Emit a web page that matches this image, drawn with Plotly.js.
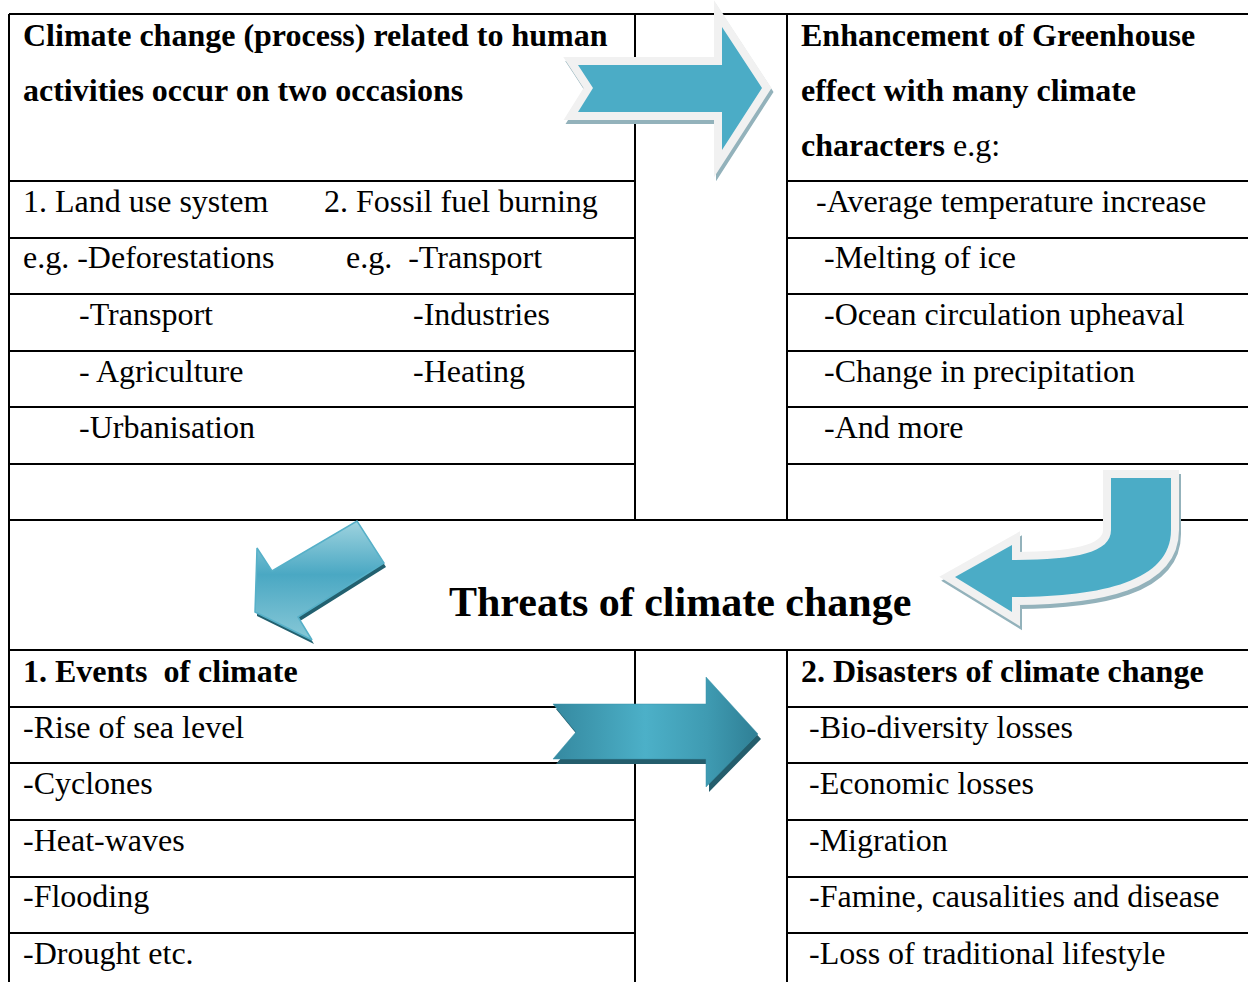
<!DOCTYPE html>
<html><head><meta charset="utf-8">
<script src="https://cdn.plot.ly/plotly-3.0.1.min.js"></script>
<style>html,body{margin:0;padding:0;background:#fff;overflow:hidden}#chart{width:1248px;height:982px}</style>
</head><body><div id="chart"></div>
<script>
// ---- text content ----
const topLeftHeader = ["Climate change (process) related to human", "activities occur on two occasions"];
const topRightHeader = ["<b>Enhancement of Greenhouse</b>", "<b>effect with many climate</b>", "<b>characters</b> e.g:"];
const landUse = ["1. Land use system", "e.g. -Deforestations", "-Transport", "- Agriculture", "-Urbanisation"];
const fossilFuel = ["2. Fossil fuel burning", "e.g.\u00a0\u00a0-Transport", "-Industries", "-Heating"];
const greenhouse = ["-Average temperature increase", "-Melting of ice", "-Ocean circulation upheaval", "-Change in precipitation", "-And more"];
const centerTitle = "Threats of climate change";
const eventsHeader = "1. Events\u00a0\u00a0of climate";
const events = ["-Rise of sea level", "-Cyclones", "-Heat-waves", "-Flooding", "-Drought etc."];
const disastersHeader = "2. Disasters of climate change";
const disasters = ["-Bio-diversity losses", "-Economic losses", "-Migration", "-Famine, causalities and disease", "-Loss of traditional lifestyle"];

// ---- layout geometry ----
const W = 1248, H = 982;
const LX0 = 9, LX1 = 635, RX0 = 787, RX1 = 1248;
const TOP = 14, MID1 = 520, MID2 = 650, BOT = 982;
const upperRows = [181, 238, 294, 351, 407, 464];
const lowerRows = [707, 763, 820, 877, 933];
const FONT = "Liberation Serif, Times New Roman, serif";
const FS = 32;
const PADX = 3;

const shapes = [];
function line(x0, y0, x1, y1) {
  shapes.push({type: 'line', xref: 'x', yref: 'y', x0, y0, x1, y1, layer: 'below', line: {color: '#000', width: 2}});
}
line(LX0, TOP, RX1, TOP);
line(LX0, MID1, RX1, MID1);
line(LX0, MID2, RX1, MID2);
line(LX0, TOP, LX0, BOT);
[LX1, RX0].forEach(x => { line(x, TOP, x, MID1); line(x, MID2, x, BOT); });
upperRows.forEach(y => { line(LX0, y, LX1, y); line(RX0, y, RX1, y); });
lowerRows.forEach(y => { line(LX0, y, LX1, y); line(RX0, y, RX1, y); });

function pathStr(pts, dx, dy) {
  return 'M ' + pts.map(p => (p[0] + dx) + ',' + (p[1] + dy)).join(' L ') + ' Z';
}
function outlinedArrow(d, dShadow) {
  shapes.push({type: 'path', xref: 'x', yref: 'y', path: dShadow, layer: 'below', fillcolor: '#93b2bb', line: {color: '#93b2bb', width: 16}});
  shapes.push({type: 'path', xref: 'x', yref: 'y', path: d, layer: 'below', fillcolor: '#f1f1f1', line: {color: '#f1f1f1', width: 16}});
  shapes.push({type: 'path', xref: 'x', yref: 'y', path: d, layer: 'below', fillcolor: '#4bacc6', line: {width: 0}});
}
// arrow 1 (top, right-pointing notched)
const a1 = [[578,65],[593,88],[578,112],[722,112],[722,150],[762,88],[722,27],[722,65]];
outlinedArrow(pathStr(a1, 0, 0), pathStr(a1, 2, 4));
// arrow 2 (bent, pointing left)
function bent(dx, dy) {
  const p = (x, y) => (x + dx) + ',' + (y + dy);
  return 'M ' + p(1111,478) + ' L ' + p(1171,478) + ' L ' + p(1171,530) +
    ' C ' + p(1171,582) + ' ' + p(1100,597) + ' ' + p(1012,597) +
    ' L ' + p(1012,612) + ' L ' + p(955,577) + ' L ' + p(1012,545) + ' L ' + p(1012,560) +
    ' C ' + p(1075,560) + ' ' + p(1111,553) + ' ' + p(1111,530) + ' Z';
}
outlinedArrow(bent(0, 0), bent(2, 4));

// gradient arrows (shadows as shapes, bodies as filled traces)
const a3 = [[272,571],[357,521],[384,563],[298,617],[312,640],[255,612],[257,548]];
const a4 = [[553,704],[576,732],[553,759],[706,759],[706,787],[758,734],[706,677],[706,704]];
shapes.push({type: 'path', xref: 'x', yref: 'y', path: pathStr(a3, 2, 4), layer: 'below', fillcolor: '#22606f', line: {width: 0}});
shapes.push({type: 'path', xref: 'x', yref: 'y', path: pathStr(a4, 3, 5), layer: 'below', fillcolor: '#245d6c', line: {width: 0}});

const closed = pts => ({x: pts.map(p => p[0]).concat([pts[0][0]]), y: pts.map(p => p[1]).concat([pts[0][1]])});
const c3 = closed(a3), c4 = closed(a4);
const traces = [
  {x: c3.x, y: c3.y, type: 'scatter', mode: 'lines', fill: 'toself', hoverinfo: 'skip',
   line: {color: '#56b0c8', width: 1.5}, fillcolor: '#5fb5cc',
   fillgradient: {type: 'vertical', start: 521, stop: 640,
     colorscale: [[0, '#9fd3df'], [0.45, '#4aa8c3'], [1, '#88c8d7']]}},
  {x: c4.x, y: c4.y, type: 'scatter', mode: 'lines', fill: 'toself', hoverinfo: 'skip',
   line: {color: '#3b93a9', width: 0.5}, fillcolor: '#45a3bb',
   fillgradient: {type: 'horizontal', start: 553, stop: 758,
     colorscale: [[0, '#3589a0'], [0.2, '#3f9ab1'], [0.45, '#4cb0c8'], [0.75, '#3f9bb2'], [1, '#2f7f95']]}}
];

const annotations = [];
function txt(x, y, text, opts) {
  opts = opts || {};
  annotations.push({x: opts.anchor ? x : x - PADX, y, xref: 'x', yref: 'y', text: opts.bold ? '<b>' + text + '</b>' : text,
    showarrow: false, xanchor: opts.anchor || 'left', yanchor: 'middle',
    font: {family: FONT, size: opts.size || FS, color: '#000'}});
}
const headerY = [35, 90, 145];
topLeftHeader.forEach((t, i) => txt(24, headerY[i], t, {bold: true}));
topRightHeader.forEach((t, i) => txt(802, headerY[i], t));
const rowTextY = [201, 257, 314, 371, 427];
const landX = [24, 24, 80, 80, 80];
const fossilX = [325, 347, 414, 414];
const ghX = [817, 825, 825, 825, 825];
landUse.forEach((t, i) => txt(landX[i], rowTextY[i], t));
fossilFuel.forEach((t, i) => txt(fossilX[i], rowTextY[i], t));
greenhouse.forEach((t, i) => txt(ghX[i], rowTextY[i], t));
txt(680, 602, centerTitle, {bold: true, size: 42, anchor: 'center'});
txt(24, 671, eventsHeader, {bold: true});
txt(802, 671, disastersHeader, {bold: true});
const lowerTextY = [727, 783, 840, 896, 953];
events.forEach((t, i) => txt(24, lowerTextY[i], t));
disasters.forEach((t, i) => txt(810, lowerTextY[i], t));

const layout = {
  width: W, height: H, margin: {l: 0, r: 0, t: 0, b: 0, pad: 0},
  paper_bgcolor: '#fff', plot_bgcolor: '#fff', showlegend: false,
  xaxis: {range: [0, W], visible: false, fixedrange: true},
  yaxis: {range: [H, 0], visible: false, fixedrange: true},
  shapes, annotations
};
Plotly.newPlot('chart', traces, layout, {staticPlot: true, displayModeBar: false});
</script></body></html>
